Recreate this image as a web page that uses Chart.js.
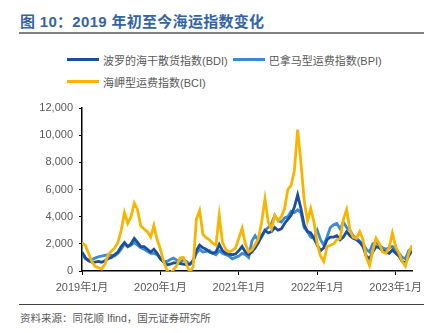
<!DOCTYPE html>
<html>
<head>
<meta charset="utf-8">
<script src="https://cdn.jsdelivr.net/npm/chart.js@4"></script>
<style>
  body { margin: 0; width: 431px; height: 333px; background: #fff; position: relative; overflow: hidden;
         font-family: "Liberation Sans", "Noto Sans CJK SC", sans-serif; }
  #title { position: absolute; left: 20px; top: 10px; font-size: 15px; font-weight: bold; color: #3464a5;
           font-family: "Liberation Sans", "Noto Sans CJK SC", sans-serif; letter-spacing: 0.3px; }
  #rule-top { position: absolute; left: 19px; top: 32px; width: 405px; height: 2px; background: #808080; }
  .legend-row { position: absolute; left: 67px; font-size: 11px; color: #595959; white-space: nowrap; }
  .legend-item { display: inline-flex; align-items: center; margin-right: 5px; }
  .legend-line { display: inline-block; width: 32px; height: 3px; margin-right: 4px; }
  #chart-box { position: absolute; left: 0; top: 95px; width: 431px; height: 205px; }
  #rule-bottom { position: absolute; left: 19px; top: 304px; width: 405px; height: 1px; background: #404040; }
  #source { position: absolute; left: 20px; top: 310px; font-size: 10.5px; color: #595959; }
</style>
</head>
<body>
<div id="title">图 10：2019 年初至今海运指数变化</div>
<div id="rule-top"></div>
<div id="legend"></div>
<div id="chart-box"><canvas id="sea-chart" width="431" height="205"></canvas></div>
<div id="rule-bottom"></div>
<div id="source">资料来源：同花顺 Ifind，国元证券研究所</div>
<script>
// half-month samples starting 2019-01 (index / 2 = months since Jan 2019)
var bdi_data = [
  1400, 1000, 750, 650, 650, 700, 650, 750, 900, 1000, 1200, 1400, 1800, 2100, 1800, 2000,
  2400, 2100, 1800, 1800, 1600, 1400, 1600, 1300, 900, 650, 450, 500, 600, 600, 550, 500,
  450, 500, 700, 1500, 1900, 1700, 1600, 1400, 1300, 1400, 1950, 1500, 1300, 1250, 1200, 1250,
  1500, 1800, 1400, 1200, 1400, 1700, 2100, 2600, 3000, 2800, 2900, 3200, 3000, 3100, 3500, 3800,
  4100, 4700, 5600, 4600, 3400, 2900, 2800, 2400, 1900, 1500, 1700, 2300, 2500, 2500, 2600, 2300,
  2500, 2900, 2600, 2400, 2300, 2100, 1800, 1100, 900, 1400, 1800, 1700, 1500, 1400, 1300, 1550,
  1300, 1100, 700, 600, 1100, 1500
];
var bpi_data = [
  1300, 900, 800, 850, 950, 1050, 1100, 1150, 1200, 1150, 1100, 1300, 1600, 2000, 1800, 1900,
  2100, 1900, 1700, 1600, 1450, 1300, 1300, 1200, 900, 700, 700, 850, 950, 800, 650, 800,
  700, 500, 800, 1300, 1600, 1400, 1450, 1500, 1300, 1200, 1500, 1300, 1200, 1100, 900, 1000,
  1100, 1300, 1200, 1000, 2200, 2600, 2200, 2500, 3000, 3200, 3500, 4100, 3700, 3600, 3900, 4000,
  4400, 4300, 4500, 4300, 3200, 2900, 2500, 2400, 3000, 2300, 1900, 2500, 3200, 3400, 3500, 3100,
  3600, 3200, 3000, 2600, 2400, 2200, 2000, 1600, 1400, 2000, 2100, 1900, 1700, 1600, 1700, 1800,
  1500, 1300, 1000, 900, 1500, 1700
];
var bci_data = [
  2070, 1900, 1300, 700, 350, 250, 150, 500, 1200, 1450, 1700, 2100, 3000, 4300, 3500, 4000,
  5000, 4500, 3300, 3100, 2900, 2500, 3350, 2300, 1600, 700, 50, -150, 100, 400, 950, 1000,
  500, -100, 300, 3800, 4450, 2700, 2450, 2300, 2050, 1900, 4100, 2100, 1600, 1400, 1500, 1700,
  2400, 3150, 2000, 1400, 1550, 1950, 2400, 3600, 5300, 3600, 3100, 4100, 3700, 4000, 4600, 6000,
  6300, 7400, 10400, 8000, 5200, 3700, 4600, 3600, 2000, 1100, 700, 1800, 1900, 2000, 2300, 2400,
  3800, 4500, 3000, 2500, 2400, 2900, 2300, 1000, 400, 1500, 2400, 2000, 1400, 1300, 1700, 2800,
  1800, 1300, 700, 350, 1300, 1900
];
var series_names = ["波罗的海干散货指数(BDI)", "巴拿马型运费指数(BPI)", "海岬型运费指数(BCI)"];
var series_colors = ["#1b4f9c", "#3a8ad4", "#f7b500"];
var year_ticks = [0, 12, 24, 36, 48]; // months since 2019-01
var start_year = 2019;

function to_points(arr) {
  return arr.map((v, i) => ({ x: i / 2, y: v }));
}

function build_legend() {
  var rows = [[0, 1], [2]];
  var box = document.getElementById("legend");
  rows.forEach((row, r) => {
    var div = document.createElement("div");
    div.className = "legend-row";
    div.style.top = (51 + r * 22) + "px";
    row.forEach((k) => {
      var item = document.createElement("span");
      item.className = "legend-item";
      item.innerHTML = '<span class="legend-line" style="background:' + series_colors[k] + '"></span>' + series_names[k];
      div.appendChild(item);
    });
    box.appendChild(div);
  });
}

function load_chart() {
  build_legend();
  var all_data = [bdi_data, bpi_data, bci_data];
  var draw_order = [1, 2, 0]; // BCI on top
  var datasets = all_data.map((d, k) => ({
    label: series_names[k],
    data: to_points(d),
    borderColor: series_colors[k],
    backgroundColor: series_colors[k],
    borderWidth: 2.8,
    pointRadius: 0,
    tension: 0,
    order: draw_order[k],
  }));

  var tick_font = { family: "'Liberation Sans', 'Noto Sans CJK SC', sans-serif", size: 11 };

  new Chart(document.getElementById("sea-chart"), {
    type: "line",
    data: { datasets: datasets },
    options: {
      responsive: false,
      animation: false,
      layout: { padding: { top: 13, right: 19, left: 0, bottom: 0 } },
      plugins: { legend: { display: false }, tooltip: { enabled: false } },
      scales: {
        x: {
          type: "linear",
          min: 0,
          max: 50.5,
          afterBuildTicks: (scale) => {
            scale.ticks = year_ticks.map((v) => ({ value: v }));
          },
          afterFit: (scale) => { scale.height = 29; },
          ticks: {
            autoSkip: false,
            maxRotation: 0,
            padding: 6,
            color: "#595959",
            font: tick_font,
            callback: (v) => (start_year + v / 12) + "年1月",
          },
          grid: { drawOnChartArea: false, drawTicks: true, tickLength: 4, tickColor: "#000" },
          border: { display: true, color: "#000", width: 1.5 },
        },
        y: {
          min: 0,
          max: 12000,
          afterFit: (scale) => { scale.width = 82; },
          ticks: {
            stepSize: 2000,
            padding: 6,
            color: "#595959",
            font: tick_font,
            callback: (v) => v.toLocaleString("en-US"),
          },
          grid: { drawOnChartArea: false, drawTicks: true, tickLength: 3, tickColor: "#000" },
          border: { display: true, color: "#000", width: 1.5 },
        },
      },
    },
  });
}

load_chart();
</script>
</body>
</html>
